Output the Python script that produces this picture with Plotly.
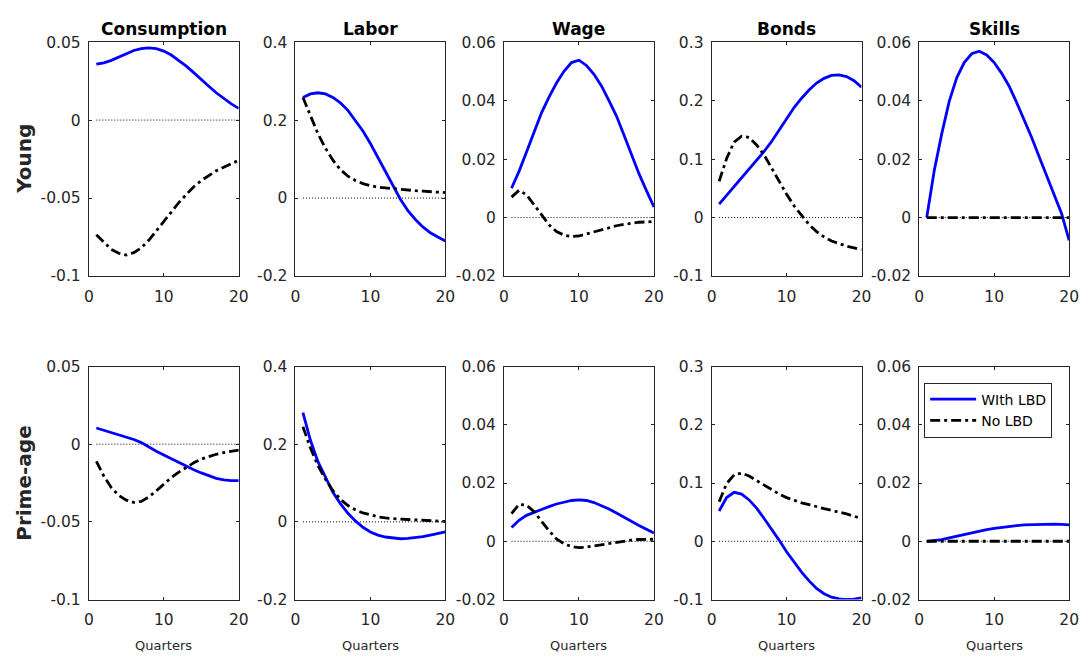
import plotly.graph_objects as go

# ---------------------------------------------------------------------------
# Impulse responses over 20 quarters
# ---------------------------------------------------------------------------
quarters = list(range(1, 21))

variables = ["Consumption", "Labor", "Wage", "Bonds", "Skills"]
groups = ["Young", "Prime-age"]
series_names = ["WIth LBD", "No LBD"]

# Young households
young_consumption_lbd = [0.0358, 0.0367, 0.0383, 0.0404, 0.0425, 0.0446, 0.0458, 0.0463, 0.0458, 0.0442,
                         0.0417, 0.0383, 0.0346, 0.0304, 0.0258, 0.0217, 0.0175, 0.0138, 0.0104, 0.0075]
young_consumption_nolbd = [-0.0735, -0.0783, -0.0829, -0.0854, -0.0865, -0.0850, -0.0819, -0.0771, -0.0713, -0.0652,
                           -0.0590, -0.0529, -0.0475, -0.0427, -0.0388, -0.0354, -0.0325, -0.0302, -0.0281, -0.0258]

young_labor_lbd = [0.258, 0.267, 0.270, 0.267, 0.258, 0.244, 0.225, 0.200, 0.172, 0.140,
                   0.105, 0.070, 0.035, -0.003, -0.032, -0.055, -0.074, -0.089, -0.100, -0.110]
young_labor_nolbd = [0.258, 0.210, 0.165, 0.128, 0.097, 0.073, 0.056, 0.045, 0.037, 0.032,
                     0.028, 0.026, 0.024, 0.022, 0.020, 0.019, 0.018, 0.016, 0.015, 0.014]

young_wage_lbd = [0.0100, 0.0158, 0.0224, 0.0292, 0.0358, 0.0412, 0.0460, 0.0500, 0.0530, 0.0538,
                  0.0520, 0.0490, 0.0450, 0.0400, 0.0347, 0.0282, 0.0215, 0.0150, 0.0092, 0.0036]
young_wage_nolbd = [0.0070, 0.0093, 0.0078, 0.0042, 0.0010, -0.0025, -0.0048, -0.0060, -0.0065, -0.0063,
                    -0.0056, -0.0048, -0.0041, -0.0034, -0.0028, -0.0023, -0.0019, -0.0016, -0.0015, -0.0013]

young_bonds_lbd = [0.023, 0.038, 0.052, 0.067, 0.082, 0.097, 0.113, 0.130, 0.150, 0.170,
                   0.188, 0.204, 0.218, 0.230, 0.238, 0.243, 0.244, 0.241, 0.234, 0.223]
young_bonds_nolbd = [0.062, 0.101, 0.129, 0.139, 0.137, 0.124, 0.107, 0.085, 0.061, 0.040,
                     0.020, 0.003, -0.012, -0.024, -0.033, -0.040, -0.045, -0.049, -0.052, -0.055]

young_skills_lbd = [0.0, 0.0160, 0.0286, 0.0397, 0.0478, 0.0530, 0.0560, 0.0569, 0.0556, 0.0530,
                    0.0493, 0.0449, 0.0393, 0.0336, 0.0274, 0.0208, 0.0144, 0.0080, 0.0013, -0.0078]
young_skills_nolbd = [0.0] * 20

# Prime-age households
prime_consumption_lbd = [0.0104, 0.0090, 0.0075, 0.0060, 0.0045, 0.0030, 0.0010, -0.0020, -0.0045, -0.0070,
                         -0.0095, -0.0120, -0.0142, -0.0165, -0.0185, -0.0205, -0.0220, -0.0230, -0.0235, -0.0235]
prime_consumption_nolbd = [-0.0110, -0.0205, -0.0280, -0.0330, -0.0360, -0.0375, -0.0368, -0.0340, -0.0300, -0.0257,
                           -0.0215, -0.0180, -0.0150, -0.0120, -0.0096, -0.0080, -0.0065, -0.0054, -0.0046, -0.0038]

prime_labor_lbd = [0.281, 0.210, 0.155, 0.114, 0.076, 0.047, 0.022, 0.0025, -0.014, -0.026,
                   -0.034, -0.039, -0.042, -0.0435, -0.0425, -0.041, -0.038, -0.034, -0.030, -0.026]
prime_labor_nolbd = [0.245, 0.190, 0.145, 0.110, 0.080, 0.058, 0.042, 0.031, 0.023, 0.017,
                     0.013, 0.010, 0.008, 0.007, 0.006, 0.005, 0.004, 0.003, 0.002, 0.001]

prime_wage_lbd = [0.0047, 0.0072, 0.0089, 0.0100, 0.0109, 0.0119, 0.0128, 0.0134, 0.0140, 0.0142,
                  0.0140, 0.0133, 0.0123, 0.0111, 0.0097, 0.0082, 0.0068, 0.0054, 0.0041, 0.0028]
prime_wage_nolbd = [0.0095, 0.0127, 0.0124, 0.0102, 0.0069, 0.0036, 0.0008, -0.0009, -0.0018, -0.0022,
                    -0.0020, -0.0016, -0.0011, -0.0007, -0.0002, 0.0001, 0.0004, 0.0006, 0.0007, 0.0007]

prime_bonds_lbd = [0.052, 0.075, 0.084, 0.081, 0.071, 0.057, 0.039, 0.021, 0.002, -0.018,
                   -0.036, -0.053, -0.068, -0.081, -0.090, -0.096, -0.099, -0.100, -0.0995, -0.097]
prime_bonds_nolbd = [0.068, 0.099, 0.114, 0.117, 0.112, 0.104, 0.096, 0.088, 0.081, 0.075,
                     0.0705, 0.066, 0.063, 0.059, 0.056, 0.053, 0.0505, 0.047, 0.043, 0.039]

prime_skills_lbd = [0.0, 0.0002, 0.0006, 0.0012, 0.0018, 0.0024, 0.0030, 0.0035, 0.0040, 0.0044,
                    0.0048, 0.0051, 0.0054, 0.0056, 0.0057, 0.0058, 0.0059, 0.0059, 0.0058, 0.0056]
prime_skills_nolbd = [0.0] * 20

responses = [
    [(young_consumption_lbd, young_consumption_nolbd), (young_labor_lbd, young_labor_nolbd),
     (young_wage_lbd, young_wage_nolbd), (young_bonds_lbd, young_bonds_nolbd),
     (young_skills_lbd, young_skills_nolbd)],
    [(prime_consumption_lbd, prime_consumption_nolbd), (prime_labor_lbd, prime_labor_nolbd),
     (prime_wage_lbd, prime_wage_nolbd), (prime_bonds_lbd, prime_bonds_nolbd),
     (prime_skills_lbd, prime_skills_nolbd)],
]

# Axis scales and tick labels per variable
x_range = [0, 20]
x_ticks = [0, 10, 20]
x_ticklabels = ["0", "10", "20"]
y_ranges = [[-0.1, 0.05], [-0.2, 0.4], [-0.02, 0.06], [-0.1, 0.3], [-0.02, 0.06]]
y_ticks = [
    [-0.1, -0.05, 0, 0.05],
    [-0.2, 0, 0.2, 0.4],
    [-0.02, 0, 0.02, 0.04, 0.06],
    [-0.1, 0, 0.1, 0.2, 0.3],
    [-0.02, 0, 0.02, 0.04, 0.06],
]
y_ticklabels = [
    ["-0.1", "-0.05", "0", "0.05"],
    ["-0.2", "0", "0.2", "0.4"],
    ["-0.02", "0", "0.02", "0.04", "0.06"],
    ["-0.1", "0", "0.1", "0.2", "0.3"],
    ["-0.02", "0", "0.02", "0.04", "0.06"],
]

# ---------------------------------------------------------------------------
# Layout geometry (pixels in a 1089 x 663 canvas)
# ---------------------------------------------------------------------------
W, H = 1089, 663
col_left = [85, 294.5, 506, 716.5, 927]
col_width = 152
row_top = [34, 367.5]
row_bottom = [274.5, 607]

FONT = "DejaVu Sans, Liberation Sans, Arial, sans-serif"
AXIS_GRAY = "#262626"
line_styles = [
    dict(color="#0000FF", width=2.8, dash="solid"),
    dict(color="#000000", width=2.8, dash="10px,4px,3px,4px"),
]

fig = go.Figure()
layout_axes = {}
shapes = []
annotations = []

for r in range(2):
    for c in range(5):
        k = r * 5 + c + 1
        xa = "x" if k == 1 else f"x{k}"
        ya = "y" if k == 1 else f"y{k}"
        xkey = "xaxis" if k == 1 else f"xaxis{k}"
        ykey = "yaxis" if k == 1 else f"yaxis{k}"

        x0 = col_left[c] / W
        x1 = (col_left[c] + col_width) / W
        y0 = 1 - row_bottom[r] / H
        y1 = 1 - row_top[r] / H

        common = dict(
            showline=True, linecolor=AXIS_GRAY, linewidth=1, mirror="allticks",
            ticks="inside", ticklen=3, tickcolor=AXIS_GRAY, tickwidth=1,
            showgrid=False, zeroline=False, fixedrange=True,
            tickfont=dict(family=FONT, size=15.5, color=AXIS_GRAY),
        )
        layout_axes[xkey] = dict(
            common, domain=[x0, x1], anchor=ya, range=x_range,
            tickmode="array", tickvals=x_ticks, ticktext=x_ticklabels,
            ticklabelstandoff=6,
        )
        layout_axes[ykey] = dict(
            common, domain=[y0, y1], anchor=xa, range=y_ranges[c],
            tickmode="array", tickvals=y_ticks[c], ticktext=y_ticklabels[c],
            ticklabelstandoff=4,
        )

        # dotted zero reference line spanning the simulated horizon
        shapes.append(dict(
            type="line", xref=xa, yref=ya, x0=quarters[0], x1=quarters[-1], y0=0, y1=0,
            line=dict(color="#000000", width=1, dash="1px,2px"), layer="below",
        ))

        for s, values in enumerate(responses[r][c]):
            fig.add_trace(go.Scatter(
                x=quarters, y=values, mode="lines", xaxis=xa, yaxis=ya,
                name=series_names[s], line=line_styles[s],
                showlegend=(r == 1 and c == 4), legendrank=s + 1,
                hoverinfo="skip",
            ))

        if r == 0:
            annotations.append(dict(
                text=f"<b>{variables[c]}</b>", xref="paper", yref="paper",
                x=(col_left[c] + col_width / 2) / W, y=1 - 21 / H,
                xanchor="center", yanchor="middle", showarrow=False,
                font=dict(family=FONT, size=17, color="#000000"),
            ))
        else:
            annotations.append(dict(
                text="Quarters", xref="paper", yref="paper",
                x=(col_left[c] + col_width / 2) / W, y=1 - 654 / H,
                xanchor="center", yanchor="middle", showarrow=False,
                font=dict(family=FONT, size=13, color=AXIS_GRAY),
            ))

# group labels on the left
for r, label in enumerate(groups):
    annotations.append(dict(
        text=f"<b>{label}</b>", xref="paper", yref="paper",
        x=19 / W, y=1 - ((row_top[r] + row_bottom[r]) / 2) / H,
        xanchor="center", yanchor="middle", textangle=-90, showarrow=False,
        font=dict(family=FONT, size=20, color="#262626"),
    ))

fig.update_layout(
    width=W, height=H,
    margin=dict(l=0, r=0, t=0, b=0),
    paper_bgcolor="#FFFFFF", plot_bgcolor="#FFFFFF",
    shapes=shapes, annotations=annotations,
    legend=dict(
        x=932 / W, y=1 - 384 / H, xanchor="left", yanchor="top",
        bgcolor="#FFFFFF", bordercolor="#262626", borderwidth=1,
        font=dict(family=FONT, size=14, color="#000000"),
        tracegroupgap=0, itemwidth=46,
    ),
    **layout_axes,
)

fig.write_html("out.html")
